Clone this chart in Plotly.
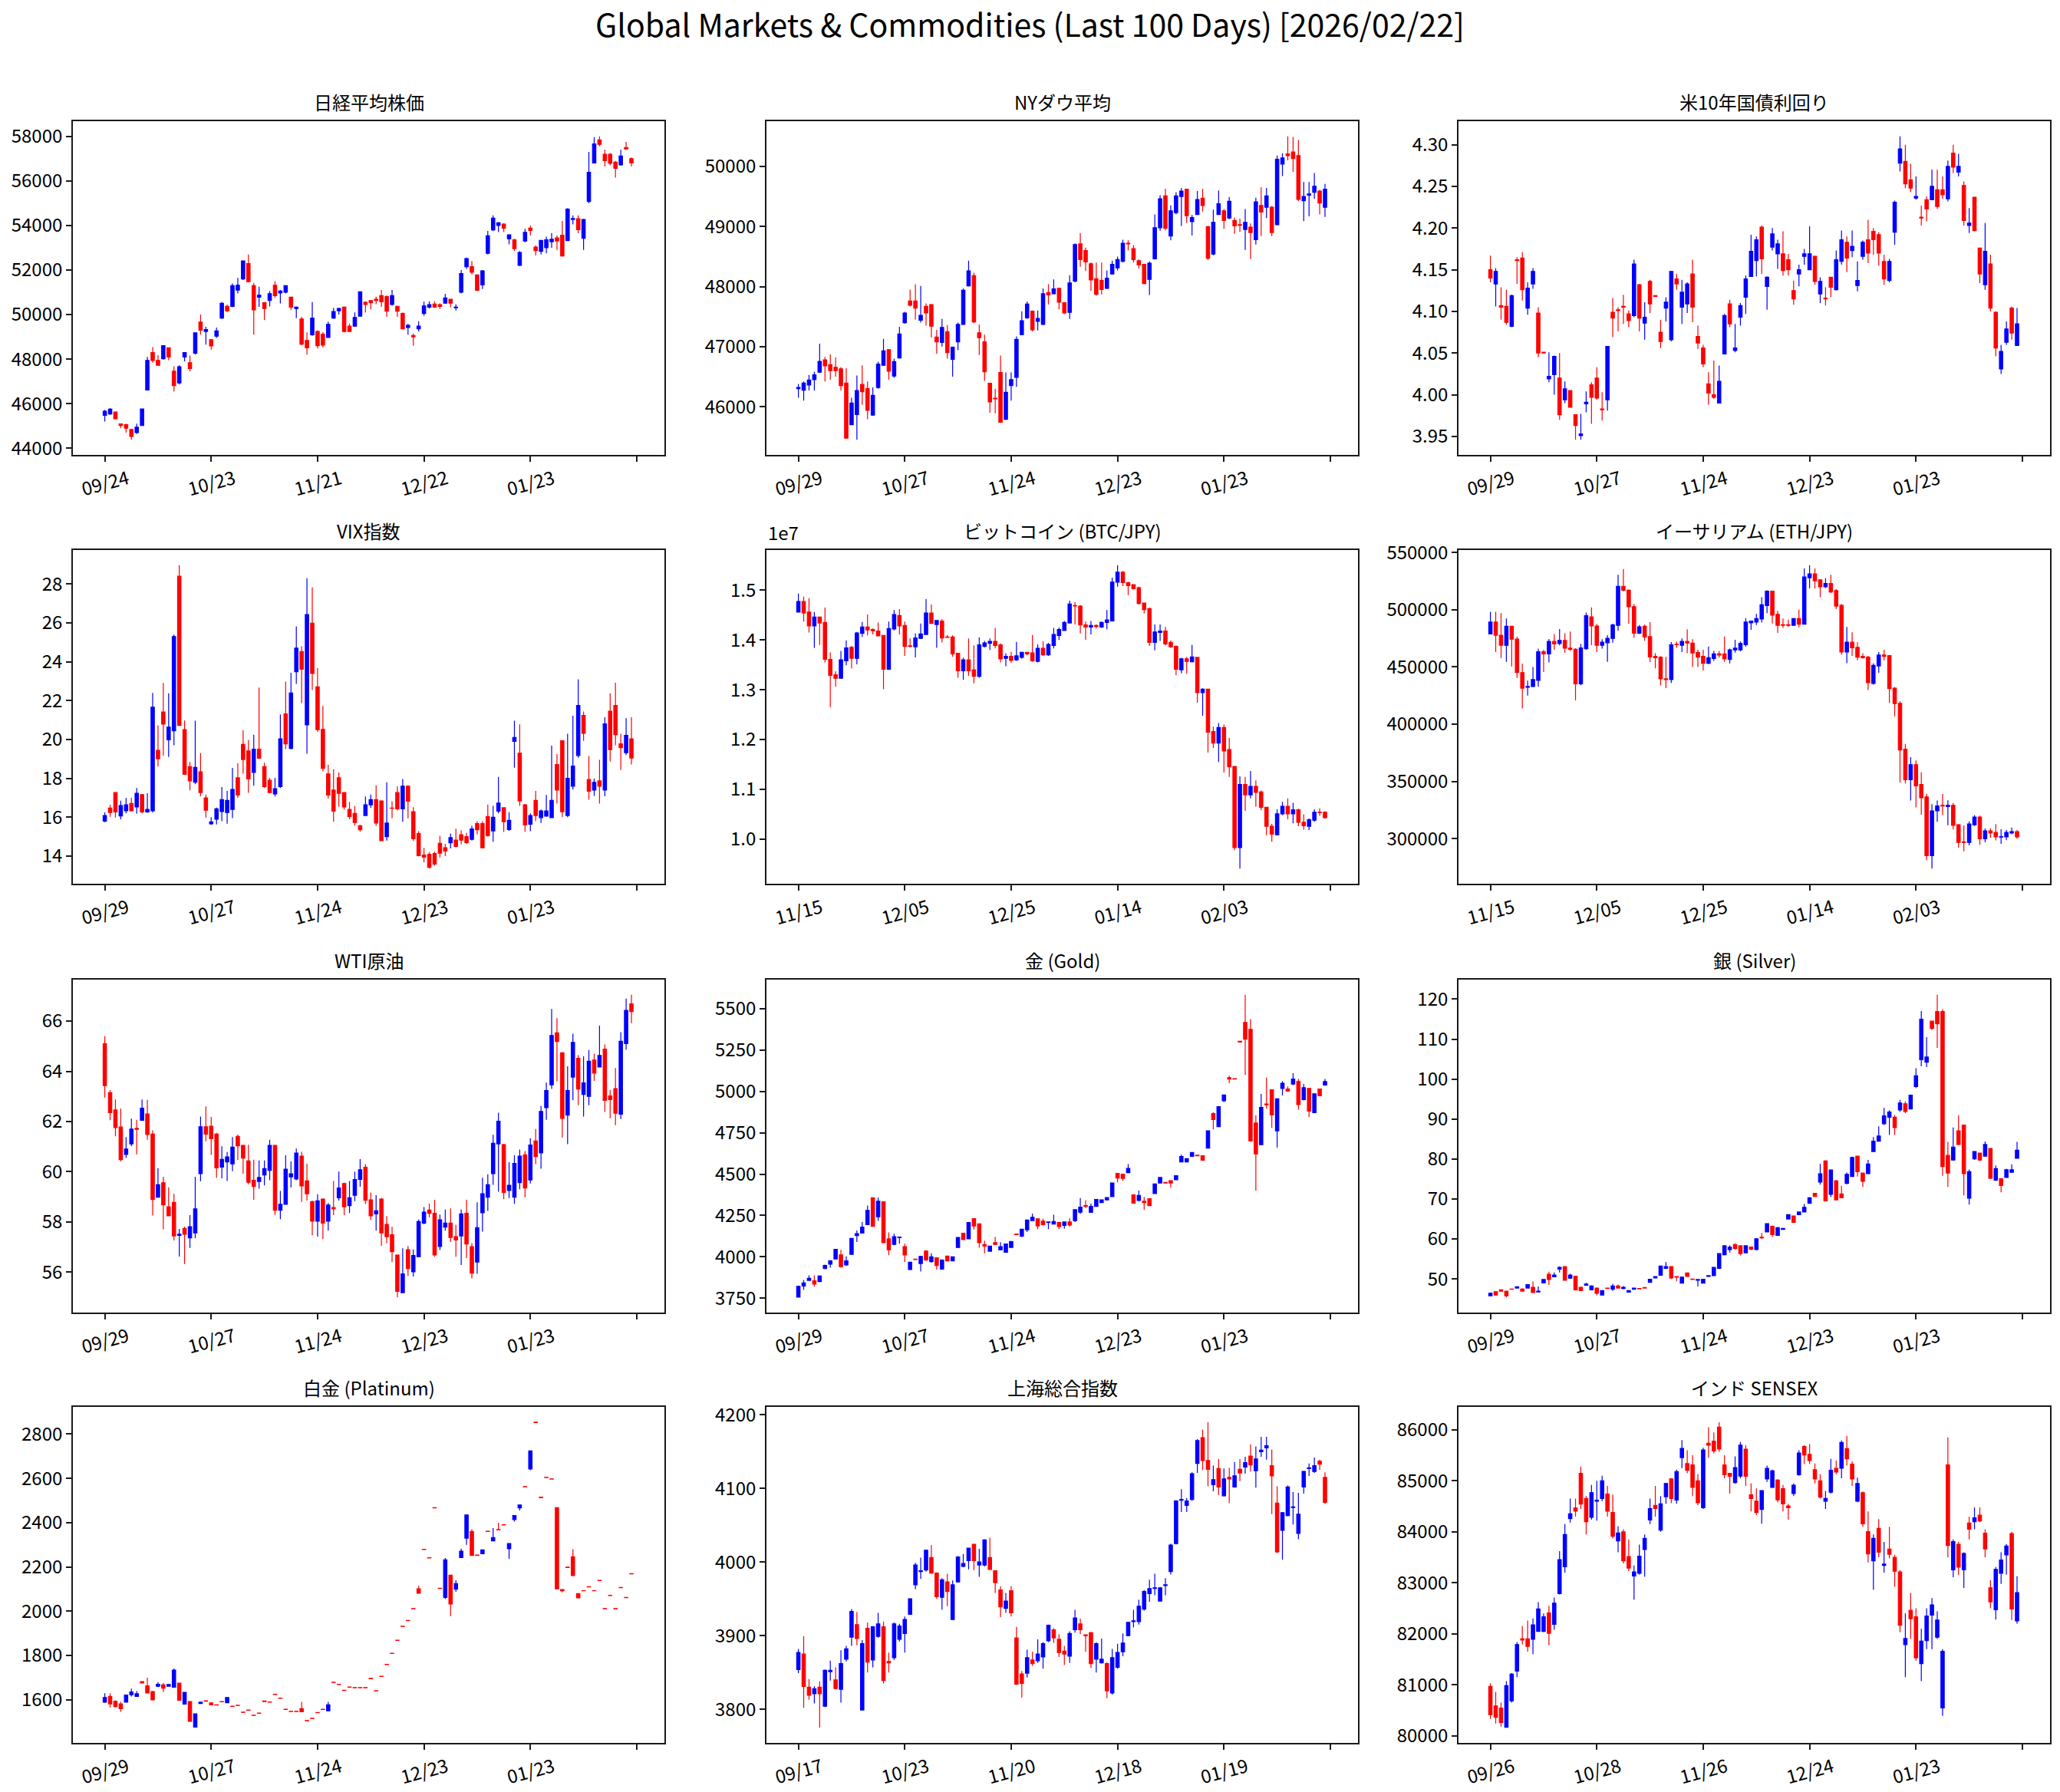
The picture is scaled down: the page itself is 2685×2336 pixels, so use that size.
import plotly.graph_objects as go

# ---------------- DATA ----------------
nk_open = [45480,45540,45620,45090,45060,44840,44700,45020,46610,48290,
47940,48020,48510,47455,46930,48090,47840,48270,49660,49240,
48870,49030,49840,50370,50370,51100,51600,52290,51300,50780,
50530,50630,51320,50970,51000,50780,50270,49800,48840,49090,
49240,49120,48970,49840,50170,50330,49480,49480,49930,50550,
50630,50690,50850,50810,50450,50370,50050,49420,49060,49360,
50050,50330,50470,50450,50510,50690,50310,51000,52150,52150,
51780,51330,52750,53800,54000,54060,53400,53360,52210,53300,
53880,53030,52840,53000,53270,53440,53560,53320,54270,54300,
53420,55080,56810,57840,57200,57200,56840,56720,57500,57000]
nk_high = [45720,45800,45650,45100,45100,44850,45100,45780,48100,48540,
48180,48620,48520,47680,47720,48300,48160,49200,50000,49450,
48900,49420,50560,50450,51400,51650,52420,52700,51420,51250,
50560,51050,51500,51100,51320,50800,50360,49900,49200,50560,
49300,49220,49680,50300,50300,50360,49600,50100,51030,50600,
50650,50800,51100,50860,51100,50400,50100,49580,49150,49700,
50580,50600,50600,50500,50930,50700,50460,52000,52560,52400,
51800,52000,53760,54450,54150,54100,53600,53400,52850,53850,
54000,53100,53350,53500,53650,53550,54200,54780,54450,54450,
54300,57300,57970,58000,57400,57250,56900,57400,57750,57050]
nk_low = [45200,45500,45300,44900,44700,44380,44650,45000,46600,47840,
47700,47980,47950,46550,46860,47900,47450,48200,49100,48650,
48430,48950,49800,50100,50330,50950,51550,51450,49100,50350,
49750,50360,50750,50500,50950,50200,49840,48620,48200,49050,
48480,48520,48950,49800,50000,49200,49230,49450,49900,50100,
50230,50470,50350,49900,50400,49900,49330,49100,48600,49240,
49950,50270,50300,50250,50480,50330,50180,50950,52050,51800,
51050,51150,52700,53750,53700,53700,53150,52850,52180,53250,
53550,52650,52700,52750,53000,52900,52600,53300,54050,53650,
52900,55000,56780,57550,56650,56700,56150,56680,57400,56650]
nk_close = [45660,45750,45320,45020,44900,44530,44940,45760,47940,47940,
47720,48600,48090,46810,47660,48290,47580,49180,49300,49330,
48590,49270,50510,50170,51300,51320,52410,51480,50210,50870,
50270,50940,50850,51060,51300,50330,50330,48670,48510,49840,
48600,48630,49560,50140,50270,49240,49240,49870,51020,50450,
50530,50630,50570,50150,50850,50150,49360,49520,49000,49480,
50390,50450,50330,50370,50750,50510,50330,51840,52510,51900,
51090,51960,53540,54330,54120,53880,53580,52960,52790,53690,
53780,52870,53330,53360,53380,53300,52630,54730,54310,53810,
54270,56390,57660,57640,56910,56790,56570,57120,57440,56810]

dj_open = [46300,46275,46360,46450,46575,46780,46700,46655,46630,46395,
45700,45870,46370,46300,45860,46320,46690,46950,46510,46810,
47400,47760,47760,47440,47670,47700,47160,47070,47250,46790,
47080,47370,48010,48180,47230,47080,46390,46140,46570,45790,
46350,46490,47200,47480,47590,47420,47370,47900,47880,47970,
47730,47570,48090,48710,48600,48380,48130,48100,47970,48210,
48310,48420,48720,48630,48430,48370,48120,48460,48980,49510,
48840,49230,49500,49620,49080,49200,49470,49000,48540,49200,
49260,49140,49100,49030,48950,48990,48780,49350,49320,49320,
49030,50040,50210,50240,50180,49430,49520,49570,49590,49320]
dj_high = [46380,46420,46530,46580,47050,46830,46870,46820,46660,46640,
46150,46520,46690,46420,46320,46750,47130,46960,46800,47330,
47580,47950,48040,48010,47720,47710,47280,47460,47360,47000,
47400,47970,48430,48230,47370,47200,46400,46300,46850,46570,
46570,47170,47590,47750,47600,47600,47970,48040,48120,47980,
47740,48190,48720,48890,48650,48400,48400,48400,48270,48430,
48500,48780,48770,48690,48450,48380,48420,49200,49520,49630,
49350,49570,49640,49630,49190,49590,49630,49010,49280,49600,
49290,49490,49150,49130,49290,49050,49480,49650,49640,49340,
50180,50220,50500,50490,50440,49740,49740,49890,49610,49710]
dj_low = [46150,46100,46270,46270,46560,46420,46450,46500,46270,45470,
45700,45450,46030,45790,45850,46300,46680,46450,46480,46800,
47380,47670,47450,47400,47350,47150,46880,47000,46800,46500,
46940,47360,48000,47390,46860,46430,45900,45890,45730,45780,
46100,46330,47190,47460,47250,47270,47360,47700,47870,47620,
47540,47460,48070,48330,48260,47930,47850,47870,47960,48200,
48270,48400,48600,48400,48300,48040,47860,48450,48930,48940,
48770,49200,49010,49060,48850,49190,49250,48440,48520,49190,
48960,49120,48880,48910,48610,48460,48700,48840,49140,48840,
49020,49840,50100,49910,49420,49090,49170,49460,49200,49160]
dj_close = [46320,46395,46445,46530,46755,46680,46600,46600,46350,45475,
46060,46270,46250,45940,46190,46710,46930,46590,46750,47210,
47560,47690,47640,47520,47560,47340,47080,47320,46900,46990,
47370,47940,48260,47410,47150,46580,46080,46130,45740,46240,
46450,47120,47430,47710,47280,47470,47880,47860,47960,47740,
47560,48060,48700,48450,48410,48110,47870,47950,48140,48370,
48450,48720,48710,48450,48360,48050,48390,48980,49460,48970,
49260,49510,49590,49180,49150,49450,49350,48470,49070,49380,
49100,49420,49010,49020,49070,48900,49410,49240,49510,48900,
50120,50140,50180,50130,49450,49500,49540,49670,49390,49620]

us_open = [4.150,4.133,4.107,4.106,4.082,4.162,4.164,4.104,4.133,4.098,
4.051,4.019,4.024,4.020,3.994,4.005,3.976,3.951,3.989,4.012,
4.020,3.983,3.994,4.099,4.102,4.106,4.097,4.095,4.132,4.086,
4.136,4.119,4.075,4.104,4.066,4.139,4.105,4.109,4.145,4.070,
4.056,4.013,4.000,3.990,4.049,4.109,4.053,4.093,4.117,4.142,
4.161,4.201,4.130,4.177,4.169,4.169,4.162,4.125,4.145,4.166,
4.150,4.166,4.121,4.116,4.141,4.126,4.160,4.183,4.173,4.131,
4.166,4.186,4.196,4.192,4.160,4.137,4.195,4.278,4.280,4.258,
4.236,4.213,4.234,4.234,4.246,4.246,4.235,4.290,4.267,4.251,
4.203,4.237,4.176,4.132,4.157,4.099,4.031,4.063,4.104,4.059]
us_high = [4.167,4.152,4.129,4.126,4.120,4.165,4.171,4.135,4.152,4.105,
4.051,4.051,4.047,4.050,4.016,4.005,3.976,3.977,4.004,4.015,
4.033,4.003,4.058,4.116,4.105,4.120,4.101,4.162,4.133,4.111,
4.138,4.1195,4.090,4.117,4.148,4.145,4.138,4.135,4.162,4.083,
4.060,4.027,4.041,4.035,4.097,4.114,4.085,4.110,4.143,4.192,
4.190,4.203,4.142,4.200,4.186,4.196,4.169,4.137,4.156,4.175,
4.202,4.167,4.141,4.129,4.141,4.173,4.197,4.190,4.197,4.160,
4.185,4.210,4.200,4.195,4.168,4.163,4.233,4.310,4.300,4.277,
4.262,4.227,4.238,4.270,4.270,4.262,4.281,4.300,4.289,4.256,
4.224,4.237,4.176,4.206,4.168,4.100,4.060,4.088,4.106,4.104]
us_low = [4.135,4.106,4.090,4.084,4.081,4.133,4.113,4.096,4.127,4.045,
4.0495,4.015,4.000,3.970,3.990,3.985,3.946,3.946,3.979,3.965,
3.994,3.969,3.981,4.069,4.076,4.085,4.081,4.093,4.076,4.066,
4.098,4.1175,4.056,4.088,4.064,4.126,4.085,4.098,4.087,4.055,
4.033,3.988,3.995,3.990,4.049,4.081,4.051,4.083,4.097,4.142,
4.142,4.145,4.102,4.173,4.151,4.143,4.143,4.108,4.130,4.156,
4.150,4.132,4.110,4.107,4.117,4.125,4.156,4.147,4.165,4.124,
4.162,4.158,4.168,4.155,4.132,4.135,4.180,4.268,4.248,4.243,
4.234,4.203,4.208,4.234,4.223,4.235,4.232,4.266,4.262,4.203,
4.194,4.196,4.134,4.126,4.100,4.046,4.025,4.060,4.066,4.059]
us_close = [4.140,4.148,4.105,4.087,4.119,4.161,4.126,4.128,4.148,4.050,
4.050,4.022,4.046,3.976,4.007,3.985,3.963,3.953,3.991,3.997,
3.996,3.982,4.058,4.092,4.101,4.105,4.089,4.157,4.092,4.093,
4.109,4.118,4.064,4.111,4.148,4.133,4.123,4.133,4.105,4.062,
4.037,4.002,3.997,4.016,4.095,4.085,4.056,4.107,4.139,4.172,
4.186,4.163,4.141,4.193,4.181,4.149,4.150,4.115,4.150,4.169,
4.169,4.136,4.136,4.115,4.129,4.162,4.186,4.164,4.178,4.137,
4.183,4.170,4.186,4.170,4.139,4.160,4.231,4.295,4.253,4.248,
4.238,4.212,4.223,4.250,4.226,4.240,4.274,4.273,4.274,4.209,
4.206,4.197,4.145,4.172,4.104,4.056,4.052,4.079,4.074,4.085]

vx_open = [15.80,16.47,17.27,16.07,16.33,16.71,16.53,17.16,16.27,16.33,
19.44,21.42,19.98,20.45,28.40,20.51,18.61,17.80,18.34,17.00,
15.66,15.90,16.29,16.24,16.40,18.03,19.75,19.41,18.31,19.50,
18.61,17.90,17.20,17.58,21.32,19.54,23.49,24.53,20.75,25.99,
22.71,20.52,18.23,17.40,18.03,17.27,16.40,16.20,15.57,16.09,
16.64,16.91,16.84,15.00,16.47,17.27,16.43,17.60,16.29,15.16,
14.06,14.10,14.13,14.66,14.43,14.69,14.83,15.10,15.00,14.86,
15.67,15.67,16.04,15.30,16.31,16.49,15.37,19.91,19.30,16.64,
15.64,16.87,15.98,16.06,15.98,18.71,19.94,16.09,17.60,19.18,
21.24,17.94,17.40,17.87,17.40,21.46,21.75,19.78,19.32,20.04]
vx_high = [16.25,16.65,17.28,16.85,16.99,17.00,17.50,17.20,17.24,22.40,
20.73,22.91,22.38,25.40,28.97,20.98,18.85,20.97,19.30,17.17,
16.00,16.50,17.55,17.36,18.54,18.78,20.47,19.97,20.25,22.67,
18.81,18.03,18.03,21.29,22.98,23.43,25.82,24.80,28.30,27.83,
23.67,21.73,18.70,18.47,18.30,17.29,16.78,16.58,15.61,17.07,
17.17,17.63,16.87,17.80,16.82,17.59,17.97,17.65,16.52,15.28,
14.42,14.21,14.23,15.05,14.63,15.16,15.41,15.32,15.19,15.56,
15.80,15.80,16.66,16.59,18.08,16.52,16.26,20.97,20.78,16.68,
16.20,17.36,16.40,17.15,19.68,19.25,19.96,20.30,21.22,23.10,
21.44,19.15,17.99,18.95,21.15,22.38,22.92,20.30,21.10,21.15]
vx_low = [15.75,16.02,15.98,15.90,16.20,16.30,16.18,16.20,16.23,16.24,
18.61,19.17,19.10,19.70,20.70,18.20,17.39,17.70,17.08,15.98,
15.61,15.63,15.80,15.67,15.95,17.00,18.24,17.26,17.62,19.00,
17.50,17.24,17.07,17.50,19.51,19.50,22.86,21.88,19.27,22.55,
20.40,18.36,16.96,15.78,16.55,16.40,15.90,15.57,15.26,16.07,
16.48,15.56,14.78,14.80,15.95,16.35,15.77,15.94,14.78,13.99,
13.67,13.36,13.51,13.92,14.00,14.40,14.45,14.60,14.62,14.80,
15.13,14.40,15.00,14.74,16.20,15.24,15.30,18.55,16.59,15.25,
15.28,15.81,15.71,16.02,15.97,16.70,16.00,16.00,17.42,19.06,
19.93,16.90,17.10,16.70,17.08,18.88,19.70,18.43,19.20,18.72]
vx_close = [16.09,16.24,16.27,16.60,16.64,16.33,17.23,16.27,16.40,21.66,
19.01,20.79,20.64,25.30,20.72,18.21,17.87,18.57,17.27,16.36,
15.76,16.43,16.91,16.87,17.43,17.14,18.97,17.97,19.50,19.04,
17.58,17.27,17.47,20.04,19.78,22.39,24.70,23.62,26.43,23.40,
20.51,18.51,17.14,16.31,17.23,16.53,16.04,15.73,15.36,16.64,
16.91,15.70,14.79,15.70,16.46,16.43,17.60,16.83,14.89,14.02,
13.95,13.42,13.59,14.15,14.26,14.95,14.50,14.82,14.70,15.40,
15.36,14.43,15.06,16.00,16.73,15.77,15.84,20.11,16.84,15.60,
16.09,16.09,16.33,16.33,16.87,17.40,16.28,18.00,18.63,21.75,
20.32,17.34,17.80,17.60,20.81,19.48,20.25,19.58,20.21,19.05]

bt_open = [1.456e7,1.477e7,1.456e7,1.428e7,1.446e7,1.435e7,1.361e7,1.330e7,1.323e7,1.358e7,
1.385e7,1.363e7,1.413e7,1.426e7,1.421e7,1.418e7,1.409e7,1.341e7,1.422e7,1.449e7,
1.429e7,1.388e7,1.386e7,1.403e7,1.411e7,1.454e7,1.431e7,1.438e7,1.406e7,1.406e7,
1.373e7,1.338e7,1.360e7,1.340e7,1.327e7,1.387e7,1.393e7,1.397e7,1.390e7,1.363e7,
1.367e7,1.360e7,1.365e7,1.375e7,1.374e7,1.357e7,1.383e7,1.370e7,1.389e7,1.409e7,
1.419e7,1.434e7,1.469e7,1.468e7,1.430e7,1.426e7,1.429e7,1.426e7,1.435e7,1.438e7,
1.516e7,1.536e7,1.515e7,1.511e7,1.505e7,1.474e7,1.463e7,1.395e7,1.415e7,1.418e7,
1.395e7,1.387e7,1.340e7,1.362e7,1.356e7,1.365e7,1.294e7,1.301e7,1.216e7,1.193e7,
1.224e7,1.180e7,1.146e7,0.983e7,1.110e7,1.089e7,1.106e7,1.095e7,1.064e7,1.026e7,
1.009e7,1.051e7,1.066e7,1.051e7,1.059e7,1.034e7,1.026e7,1.038e7,1.054e7,1.054e7]
bt_high = [1.493e7,1.487e7,1.484e7,1.456e7,1.446e7,1.465e7,1.375e7,1.337e7,1.378e7,1.399e7,
1.388e7,1.416e7,1.436e7,1.451e7,1.423e7,1.435e7,1.410e7,1.437e7,1.460e7,1.462e7,
1.437e7,1.403e7,1.413e7,1.433e7,1.482e7,1.471e7,1.440e7,1.442e7,1.410e7,1.409e7,
1.373e7,1.364e7,1.403e7,1.389e7,1.405e7,1.398e7,1.403e7,1.424e7,1.393e7,1.373e7,
1.376e7,1.396e7,1.376e7,1.376e7,1.410e7,1.391e7,1.397e7,1.394e7,1.424e7,1.425e7,
1.438e7,1.479e7,1.476e7,1.470e7,1.437e7,1.438e7,1.431e7,1.437e7,1.460e7,1.525e7,
1.550e7,1.538e7,1.517e7,1.512e7,1.507e7,1.475e7,1.465e7,1.431e7,1.431e7,1.426e7,
1.399e7,1.389e7,1.364e7,1.366e7,1.390e7,1.366e7,1.303e7,1.302e7,1.226e7,1.233e7,
1.230e7,1.203e7,1.146e7,1.126e7,1.125e7,1.137e7,1.118e7,1.098e7,1.065e7,1.031e7,
1.060e7,1.075e7,1.082e7,1.073e7,1.061e7,1.050e7,1.042e7,1.060e7,1.062e7,1.056e7]
bt_low = [1.455e7,1.437e7,1.415e7,1.384e7,1.390e7,1.355e7,1.265e7,1.306e7,1.322e7,1.349e7,
1.343e7,1.351e7,1.406e7,1.409e7,1.411e7,1.408e7,1.301e7,1.340e7,1.419e7,1.411e7,
1.368e7,1.385e7,1.365e7,1.402e7,1.410e7,1.432e7,1.384e7,1.395e7,1.405e7,1.366e7,
1.324e7,1.320e7,1.328e7,1.313e7,1.324e7,1.385e7,1.380e7,1.383e7,1.355e7,1.347e7,
1.354e7,1.358e7,1.362e7,1.369e7,1.356e7,1.355e7,1.368e7,1.368e7,1.383e7,1.400e7,
1.418e7,1.433e7,1.431e7,1.413e7,1.400e7,1.411e7,1.423e7,1.424e7,1.421e7,1.437e7,
1.507e7,1.508e7,1.490e7,1.501e7,1.471e7,1.453e7,1.388e7,1.379e7,1.398e7,1.389e7,
1.384e7,1.329e7,1.333e7,1.332e7,1.355e7,1.274e7,1.248e7,1.174e7,1.183e7,1.155e7,
1.134e7,1.125e7,0.978e7,0.941e7,1.057e7,1.082e7,1.065e7,1.058e7,1.008e7,0.995e7,
1.007e7,1.048e7,1.040e7,1.032e7,1.026e7,1.019e7,1.018e7,1.035e7,1.047e7,1.041e7]
bt_close = [1.477e7,1.454e7,1.428e7,1.446e7,1.434e7,1.361e7,1.329e7,1.323e7,1.360e7,1.384e7,
1.363e7,1.414e7,1.426e7,1.420e7,1.418e7,1.408e7,1.341e7,1.423e7,1.451e7,1.428e7,
1.387e7,1.387e7,1.404e7,1.412e7,1.454e7,1.433e7,1.439e7,1.404e7,1.405e7,1.372e7,
1.338e7,1.360e7,1.338e7,1.327e7,1.390e7,1.394e7,1.397e7,1.389e7,1.362e7,1.367e7,
1.359e7,1.368e7,1.375e7,1.372e7,1.358e7,1.383e7,1.370e7,1.391e7,1.411e7,1.421e7,
1.435e7,1.472e7,1.468e7,1.430e7,1.426e7,1.429e7,1.427e7,1.435e7,1.440e7,1.516e7,
1.536e7,1.515e7,1.509e7,1.503e7,1.473e7,1.461e7,1.395e7,1.416e7,1.418e7,1.392e7,
1.386e7,1.341e7,1.362e7,1.357e7,1.366e7,1.294e7,1.301e7,1.215e7,1.193e7,1.224e7,
1.177e7,1.145e7,0.983e7,1.110e7,1.089e7,1.106e7,1.094e7,1.064e7,1.026e7,1.010e7,
1.051e7,1.066e7,1.051e7,1.059e7,1.034e7,1.027e7,1.039e7,1.054e7,1.053e7,1.043e7]

et_open = [478840,489200,477700,468900,485600,474300,445100,432200,432900,438300,
463300,461500,472300,470500,473200,466400,465500,435200,466000,493700,
485800,468900,471200,475000,486300,520500,517100,502700,479500,485600,
476600,459200,458600,439600,438900,469800,468900,472300,470900,462600,
459200,453200,457400,461500,461500,456500,464900,464900,469400,488500,
489200,491900,503600,516200,496000,486900,486900,486300,492300,487400,
527900,531300,526100,520100,523000,516700,503800,463100,471600,467100,
459200,458600,435600,450900,460400,459900,431500,418200,378200,351600,
364700,347300,336500,285200,324300,329100,328100,329100,312200,297200,
296700,312200,318900,300000,306800,305400,301400,301600,305000,306100]
et_high = [498200,498200,497000,492300,485800,476500,452800,438000,449900,466000,
465000,474500,478800,483200,479500,481000,466400,470100,497500,502000,
487600,474300,477700,487800,530600,535600,517800,505000,486700,487000,
489200,462000,459400,458800,471700,472300,475000,482800,474300,465000,
465000,467800,464000,464000,476600,466000,473700,472300,492600,490500,
496400,510900,517000,516500,499000,492300,491400,492500,500000,536100,
538900,536100,526100,527500,530600,518200,505000,485000,480200,471600,
462000,459700,453200,463000,465000,460400,432500,420200,382700,371200,
368300,358000,339200,330200,333300,339100,333600,331200,312700,311500,
315100,320600,320200,308900,309000,312700,308300,307600,309800,307600]
et_low = [478800,463100,457900,454500,450500,440400,413800,425000,432400,432700,
445600,454000,465000,468900,462400,464000,420800,434100,465000,469000,
463100,466000,454500,471200,481700,516000,487800,475500,478800,472800,
454300,448800,434100,431500,436000,466600,463100,462000,450000,449900,
447000,452400,455400,458100,454500,453200,462600,463700,467700,482500,
486700,488800,497000,488000,479800,484200,485100,485900,484700,487000,
518700,518700,510900,519000,514400,500500,460600,453300,459700,455900,
457400,429900,434600,445000,455900,418400,406700,349000,348300,333300,
327400,320900,281100,273900,314800,320600,311700,308100,292100,289000,
294200,311100,294600,296800,300900,298500,295500,298700,303800,299800]
et_close = [489200,477700,468900,485600,474300,445100,431500,432900,439000,463300,
461500,472300,470100,473200,466400,465500,435200,466700,494800,485800,
468900,471600,475000,486700,520500,517100,502700,479500,485100,476100,
458800,458100,439600,438900,469400,469400,472300,470900,462200,458600,
453200,458100,461500,460400,457000,464900,466400,470500,489200,490100,
492300,504300,516200,495300,486300,486300,486300,492300,487400,528600,
531300,525200,520100,523000,515500,503200,463100,471600,466700,458600,
458100,436300,451400,460400,459300,431100,418000,377500,351600,364700,
346200,335800,285200,324200,328600,328600,329100,311700,296700,296700,
312900,318900,300000,306800,305000,301600,301800,305400,306100,301600]

wt_open = [65.10,63.15,62.46,61.78,60.69,61.11,61.73,62.05,62.30,61.50,
58.98,59.56,58.60,58.78,57.46,57.74,57.36,57.56,59.92,61.79,
61.81,61.50,60.18,60.39,60.31,61.41,61.05,60.43,59.66,59.61,
59.87,60.05,61.05,58.46,58.70,59.79,59.71,60.62,59.63,58.81,
58.03,58.91,58.03,58.57,58.96,59.53,58.65,59.06,59.69,60.18,
58.88,58.32,58.91,57.90,57.49,56.68,55.18,56.89,56.01,56.61,
57.95,58.47,58.34,57.02,57.79,57.95,57.41,57.44,58.34,57.01,
56.40,58.36,58.98,59.92,61.11,61.08,59.25,58.98,59.56,60.67,
59.67,61.22,60.75,62.55,63.46,65.53,64.74,62.25,63.77,64.52,
63.08,63.00,64.45,64.17,64.88,63.02,63.31,62.29,65.10,66.69]
wt_high = [65.40,63.25,62.88,62.52,61.38,62.11,62.07,62.88,62.86,61.65,
60.14,59.80,59.38,59.12,57.72,57.81,58.27,59.80,62.20,62.60,
62.18,61.55,61.01,60.78,61.38,61.48,61.07,61.07,60.48,60.45,
60.45,61.27,61.07,59.23,60.65,60.41,60.92,60.79,60.32,58.84,
59.10,58.93,58.75,59.63,60.00,59.56,59.63,60.00,60.50,60.30,
59.17,59.06,58.96,58.23,57.80,56.70,56.95,57.04,56.90,58.09,
58.59,58.73,58.88,58.29,58.49,58.54,57.88,58.49,58.88,57.15,
58.78,59.76,59.90,61.47,62.35,61.11,60.38,60.66,60.88,60.82,
61.33,61.70,62.62,63.55,66.48,66.12,64.74,64.20,65.50,64.65,
64.60,64.85,64.70,65.82,65.07,63.25,64.13,65.56,66.90,67.05]
wt_low = [62.95,62.05,61.41,60.41,60.55,61.02,60.69,62.03,61.27,58.25,
58.96,57.70,58.22,57.26,56.62,56.32,56.96,57.35,59.62,61.21,
60.67,59.76,59.74,59.63,60.02,60.47,59.92,59.50,58.88,59.32,
59.45,59.66,58.28,58.11,58.68,59.37,59.66,58.80,58.85,57.47,
57.41,57.31,57.65,58.27,58.85,58.27,58.35,58.83,59.40,58.71,
58.07,57.65,57.05,57.15,56.40,54.99,55.17,55.85,55.82,56.60,
57.90,58.18,56.61,56.88,57.65,57.20,56.61,56.28,56.56,55.75,
55.93,57.61,58.44,59.48,59.20,58.90,58.95,58.72,59.30,58.97,
59.53,60.30,60.12,62.07,63.30,63.60,61.36,61.10,62.85,62.65,
62.20,62.65,63.62,64.17,62.38,62.13,61.85,62.10,64.86,65.92]
wt_close = [63.43,62.35,61.76,60.48,60.90,61.70,61.69,62.53,61.48,58.89,
59.48,58.68,58.24,57.44,57.51,57.51,57.81,58.52,61.79,61.50,
61.31,60.15,60.49,60.59,60.98,61.03,60.54,59.58,59.41,59.77,
60.12,61.05,58.46,58.70,60.10,59.92,60.74,59.43,59.12,58.03,
58.84,57.95,58.67,58.52,59.35,58.60,58.96,59.69,60.08,58.86,
58.24,58.44,57.56,57.41,56.81,55.23,55.93,56.14,56.66,58.01,
58.39,58.34,56.68,58.08,57.95,57.38,57.28,58.32,57.12,55.96,
57.77,59.12,59.48,61.13,62.01,59.17,59.46,60.33,60.62,59.35,
61.06,60.60,62.40,63.23,65.43,65.19,62.12,63.23,65.15,63.29,
63.54,64.40,63.93,64.63,62.84,62.87,62.33,65.20,66.43,66.38]

au_open = [3757,3824,3858,3855,3851,3929,3956,3987,4012,3952,
4015,4129,4144,4195,4357,4242,4333,4109,4075,4117,
4062,3924,3987,3960,4035,3971,3995,3926,4005,3976,
4057,4143,4109,4231,4200,4075,4034,4086,4043,4028,
4057,4138,4125,4164,4219,4230,4216,4208,4198,4208,
4190,4211,4219,4270,4310,4269,4305,4328,4344,4364,
4505,4500,4509,4375,4341,4336,4352,4383,4446,4450,
4461,4466,4574,4574,4607,4614,4611,4657,4866,4787,
4944,5083,5077,5303,5417,5375,4809,4678,4924,5010,
4762,5018,5014,5044,5060,4950,5018,4872,5014,5038]
au_high = [3826,3860,3888,3888,3888,3953,3980,4048,4043,4003,
4114,4160,4210,4310,4359,4358,4335,4148,4140,4121,
4080,3970,3988,4007,4040,4022,3997,3984,4007,4003,
4118,4146,4211,4234,4202,4098,4068,4120,4089,4081,
4095,4140,4170,4225,4262,4232,4230,4213,4255,4212,
4213,4234,4288,4356,4342,4322,4350,4347,4361,4448,
4507,4502,4560,4378,4402,4362,4353,4443,4482,4452,
4463,4493,4618,4597,4634,4616,4613,4765,4875,4910,
4981,5095,5079,5305,5584,5437,4855,4985,5083,5012,
4957,5062,5030,5110,5075,5045,5020,4988,5016,5075]
au_low = [3755,3800,3855,3820,3849,3925,3935,3985,3935,3945,
4013,4090,4142,4193,4182,4218,4085,4010,4070,4080,
3970,3920,3983,3912,3975,3965,3923,3924,3972,3974,
4055,4102,4106,4165,4055,4022,4032,4072,4040,4025,
4055,4133,4120,4150,4217,4168,4190,4168,4195,4168,
4170,4182,4210,4260,4295,4266,4303,4326,4342,4362,
4450,4460,4505,4322,4336,4285,4308,4380,4444,4444,
4418,4464,4572,4571,4605,4609,4582,4655,4770,4785,
4935,5050,5072,5296,5100,4695,4400,4675,4895,4780,
4660,4975,4998,5038,4890,4945,4845,4868,4972,5035]
au_close = [3822,3843,3871,3835,3885,3948,3976,4046,3941,3976,
4112,4140,4180,4281,4184,4336,4086,4043,4122,4120,
4012,3968,3984,4003,3981,4000,3948,3981,3976,4000,
4117,4104,4208,4187,4086,4065,4065,4075,4062,4078,
4093,4135,4167,4223,4239,4187,4195,4211,4214,4183,
4211,4192,4286,4300,4305,4305,4347,4344,4359,4446,
4477,4474,4535,4325,4371,4328,4310,4441,4480,4446,
4446,4490,4606,4594,4631,4611,4584,4762,4830,4908,
4978,5075,5074,5298,5315,4701,4623,4903,4919,4858,
4955,5049,5002,5075,4920,5022,4881,4986,4974,5060]

ag_open = [45.77,46.81,47.27,46.94,47.46,47.72,47.46,47.72,47.92,46.75,
49.02,51.17,50.54,52.46,53.11,50.19,50.71,47.92,48.44,47.27,
47.72,45.97,47.72,47.40,48.24,47.60,46.68,47.40,47.60,47.85,
49.16,50.26,50.91,52.66,53.11,50.58,48.96,51.49,49.99,49.67,
48.95,50.64,50.84,52.66,56.04,57.33,58.63,58.30,56.55,57.98,
57.33,60.45,61.75,63.18,60.90,62.40,65.00,65.77,66.10,66.75,
68.89,71.42,74.22,79.54,71.16,74.54,71.29,73.89,75.65,80.71,
76.49,76.36,81.88,84.48,88.83,90.45,90.45,92.27,93.83,92.53,
98.12,104.87,104.22,114.48,116.88,116.88,80.91,79.74,87.08,88.50,
70.19,80.06,81.49,80.71,82.66,74.74,75.06,75.39,76.68,80.19]
ag_high = [46.56,46.88,47.40,47.00,47.50,48.10,47.70,48.60,49.35,48.10,
50.00,51.80,51.62,53.18,53.18,51.30,50.80,48.05,49.02,48.40,
47.80,47.10,47.80,48.80,48.60,48.20,47.15,47.80,47.65,47.90,
50.00,50.70,53.30,54.20,53.20,50.60,50.60,51.60,50.00,49.90,
50.00,50.90,53.00,56.40,58.35,58.40,58.90,58.40,58.40,58.00,
60.20,61.50,63.90,63.40,63.00,62.70,66.20,65.80,66.80,68.80,
70.50,71.50,78.80,79.70,77.40,74.80,73.30,76.60,80.60,80.80,
76.60,79.80,85.50,88.20,92.80,92.20,91.00,94.80,94.40,96.00,
102.70,117.00,110.50,114.60,121.10,117.50,84.30,87.90,90.90,88.60,
77.40,82.00,81.60,84.40,82.70,78.40,75.10,77.60,78.70,84.30]
ag_low = [45.70,45.84,46.88,45.38,47.35,47.70,46.85,47.70,46.55,46.70,
48.95,48.50,50.50,51.60,49.60,50.05,47.20,47.00,48.35,47.20,
45.90,45.90,47.50,47.00,47.65,47.40,46.60,47.30,47.50,47.70,
49.10,50.20,50.85,52.50,50.00,49.40,48.90,50.50,49.80,48.10,
48.90,50.60,50.80,52.50,55.90,56.60,57.30,55.90,56.40,57.20,
57.20,60.00,61.70,60.50,60.80,62.30,64.90,64.00,66.00,66.70,
68.80,70.60,73.60,69.40,70.50,69.70,70.20,73.70,75.50,75.60,
73.00,76.20,81.80,84.40,88.50,86.00,86.00,91.80,91.50,92.40,
97.80,103.20,103.00,112.30,107.80,75.80,73.00,79.60,83.50,70.90,
68.60,79.80,79.50,80.60,75.00,74.50,71.70,75.30,76.60,80.10]
ag_close = [46.42,45.97,46.94,45.77,47.40,48.05,46.94,48.57,46.62,46.94,
49.87,49.87,50.97,52.92,49.67,50.97,47.27,47.07,48.70,48.24,
46.42,47.07,47.60,48.24,47.72,47.92,47.07,47.72,47.53,47.72,
49.93,50.58,53.24,53.11,50.26,50.45,50.45,50.62,49.87,49.87,
49.93,50.84,52.92,56.36,58.30,57.94,57.65,56.36,58.30,57.46,
60.06,60.26,63.83,61.10,62.85,62.66,66.10,64.15,66.75,67.92,
70.32,70.65,76.30,69.54,77.25,69.80,70.32,76.17,80.39,76.82,
74.41,78.76,84.48,85.78,90.78,91.75,87.86,94.02,91.88,95.97,
100.84,115.00,105.52,112.66,113.83,78.11,76.49,82.98,83.63,76.36,
76.82,81.88,79.74,83.63,75.19,77.59,73.37,77.33,77.33,82.20]

pt_open = [1589,1615,1593,1581,1589,1623,1615,1682,1663,1637,
1661,1667,1661,1657,1675,1580,1592,1476,1583,1595,
1586,1577,1592,1586,1571,1575,1544,1554,1530,1540,
1594,1590,1625,1607,1557,1548,1548,1560,1506,1516,
1542,1557,1550,1679,1670,1643,1658,1655,1655,1655,
1697,1641,1706,1760,1810,1869,1932,1958,2012,2101,
2280,2242,2468,2104,2062,2163,2099,2242,2330,2360,
2254,2260,2361,2318,2369,2391,2282,2414,2467,2563,
2643,2854,2515,2605,2598,2468,2098,2199,2246,2080,
2093,2111,2093,2139,2012,2072,2012,2107,2062,2170]
pt_high = [1629,1629,1597,1590,1623,1650,1640,1684,1700,1640,
1680,1676,1670,1741,1676,1635,1593,1538,1590,1596,
1587,1577,1592,1611,1571,1575,1544,1554,1530,1540,
1594,1590,1625,1607,1557,1548,1548,1590,1506,1516,
1542,1557,1590,1679,1670,1643,1658,1655,1655,1655,
1697,1641,1706,1760,1810,1869,1932,1958,2012,2115,
2280,2242,2468,2104,2240,2165,2140,2283,2437,2370,
2254,2279,2361,2375,2400,2391,2308,2434,2482,2563,
2726,2854,2515,2605,2598,2470,2100,2200,2280,2082,
2093,2111,2093,2139,2012,2072,2012,2107,2062,2170]
pt_low = [1586,1565,1565,1545,1587,1615,1613,1675,1630,1597,
1657,1635,1660,1655,1596,1578,1500,1474,1582,1592,
1576,1576,1591,1585,1570,1574,1543,1553,1529,1539,
1592,1589,1624,1606,1556,1547,1547,1545,1505,1515,
1541,1556,1548,1678,1669,1642,1657,1654,1654,1654,
1695,1640,1705,1759,1809,1868,1931,1957,2011,2080,
2279,2241,2467,2103,2055,1978,2088,2240,2300,2250,
2252,2258,2360,2316,2368,2390,2236,2405,2455,2562,
2637,2852,2513,2604,2597,2099,2085,2196,2159,2058,
2092,2110,2092,2138,2011,2071,2011,2106,2061,2169]
pt_close = [1610,1581,1569,1560,1621,1635,1627,1676,1631,1599,
1670,1652,1669,1734,1598,1633,1502,1536,1589,1593,
1577,1576,1591,1610,1570,1574,1543,1553,1529,1539,
1592,1589,1624,1606,1556,1547,1547,1546,1505,1515,
1541,1556,1577,1678,1669,1642,1657,1654,1654,1654,
1695,1640,1705,1759,1809,1868,1931,1957,2011,2081,
2279,2241,2467,2103,2232,2033,2125,2271,2435,2252,
2252,2277,2360,2333,2368,2390,2306,2432,2480,2562,
2724,2852,2513,2604,2597,2101,2092,2197,2161,2060,
2092,2110,2092,2138,2011,2071,2011,2106,2061,2169]

sh_open = [3854,3875,3830,3821,3830,3804,3851,3840,3827,3868,
3898,3915,3799,3910,3867,3899,3912,3865,3870,3895,
3903,3929,3969,3987,3989,4006,3985,3952,3973,3922,
3973,3994,4002,4024,3996,3996,4006,3988,3962,3937,
3961,3897,3848,3849,3867,3866,3871,3893,3908,3895,
3879,3872,3908,3916,3901,3904,3868,3863,3862,3822,
3857,3878,3900,3919,3919,3936,3957,3964,3947,3968,
3987,4025,4084,4077,4085,4134,4169,4138,4105,4127,
4090,4115,4102,4126,4129,4144,4124,4150,4155,4131,
4080,4043,4063,4074,4039,4102,4127,4123,4137,4115]
sh_high = [3882,3899,3841,3831,3838,3854,3866,3857,3880,3886,
3936,3932,3894,3918,3913,3931,3919,3877,3918,3916,
3926,3950,3999,4006,4017,4023,3986,3978,3984,3975,
4008,4011,4019,4025,4018,4031,4033,3989,3967,3958,
3967,3912,3852,3881,3878,3895,3891,3915,3910,3902,
3886,3906,3935,3923,3901,3905,3891,3896,3864,3882,
3889,3903,3919,3935,3949,3962,3976,3984,3966,3978,
4025,4084,4099,4087,4122,4167,4180,4190,4131,4140,
4127,4128,4136,4140,4143,4160,4157,4170,4170,4153,
4103,4068,4104,4095,4094,4124,4134,4142,4139,4122]
sh_low = [3849,3802,3813,3808,3775,3803,3839,3827,3809,3865,
3886,3887,3799,3850,3857,3897,3835,3850,3867,3892,
3877,3928,3963,3977,3987,3984,3950,3935,3940,3921,
3972,3993,3990,3989,3980,3994,3989,3958,3925,3931,
3926,3833,3816,3843,3859,3863,3855,3891,3890,3871,
3860,3863,3904,3902,3878,3856,3850,3862,3815,3820,
3855,3872,3899,3911,3915,3934,3946,3955,3946,3955,
3983,4024,4068,4068,4083,4121,4125,4103,4096,4091,
4089,4080,4101,4110,4120,4123,4101,4143,4139,4065,
4012,4003,4062,4051,4031,4093,4117,4121,4125,4079]
sh_close = [3877,3831,3819,3828,3821,3853,3853,3828,3862,3882,
3933,3896,3889,3864,3912,3916,3839,3863,3916,3913,
3922,3950,3996,3988,4016,3985,3953,3976,3960,3969,
4007,3998,4019,4002,4000,4030,3990,3972,3939,3947,
3931,3834,3835,3870,3862,3875,3889,3914,3897,3877,
3875,3903,3924,3908,3900,3862,3889,3868,3825,3870,
3877,3890,3918,3920,3940,3960,3964,3965,3965,3969,
4023,4083,4085,4083,4120,4165,4138,4126,4112,4102,
4113,4113,4117,4121,4135,4132,4140,4152,4158,4117,
4014,4067,4102,4075,4065,4123,4128,4131,4133,4081]

sx_open = [80969,80586,80545,80165,80684,81270,81902,81902,81892,82047,
82047,82410,82187,82788,83316,84259,84471,85145,84653,84285,
84601,84653,84741,84378,83824,84000,83513,83135,83187,83653,
84233,84518,84031,84689,85036,84622,85456,85337,85311,85000,
84472,85736,85777,86052,85311,85145,84964,85093,85622,84725,
84601,84440,85036,84870,85015,84845,84508,84751,85119,85674,
85518,85218,85000,84601,84777,85244,85249,85632,85326,84601,
84767,84005,83430,84067,83342,83663,83498,83213,81788,82461,
82332,81415,81866,82368,81933,80545,85311,83254,83757,83254,
84171,84197,84326,83974,82902,82471,83187,83549,83964,82254]
sx_high = [81030,80860,80650,81070,81230,81840,82150,82260,82300,82620,
82400,82550,82710,83620,84150,84650,84650,85280,84700,84920,
85000,85100,84900,84730,84110,84050,83850,83340,83750,83950,
84650,84900,84700,84960,85050,85220,85800,85600,85500,85130,
85650,86050,85950,86150,85500,85150,85480,85760,85700,84950,
84850,84810,85300,85220,85030,84920,84550,84950,85600,85700,
85720,85340,85130,84800,85430,85400,85790,85880,85380,85060,
84790,84400,83950,84250,83800,84100,83550,83250,82400,82800,
82500,82100,82500,82700,82440,81700,85850,83850,83800,83600,
84300,84480,84480,84050,83050,83310,83600,83760,84000,83130]
sx_low = [80330,80240,80180,80160,80650,81150,81790,81650,81600,82040,
82030,81780,82080,82770,83200,84180,84300,84450,83950,84240,
84220,84600,84300,83870,83600,83380,83230,82670,83160,83120,
84150,84300,84000,84550,84560,84550,85250,85150,84700,84520,
84450,85450,85540,85570,85050,84750,84940,85050,84900,84400,
84330,84160,84980,84860,84580,84400,84240,84700,85100,85330,
85330,84950,84650,84450,84750,85130,85050,85300,84900,84580,
84100,83400,82860,83500,83200,83480,82920,82030,81150,81900,
81470,81070,81700,81700,81900,80390,83500,83110,83150,82900,
83850,84050,84190,83500,82500,82280,82980,83160,82270,82200]
sx_close = [80415,80363,80260,80985,81208,81788,81876,81752,82176,82487,
82332,82010,82601,83456,83948,84352,84404,84544,84197,84767,
84622,85000,84404,83912,83979,83430,83290,83213,83523,83870,
84456,84456,84549,84948,84653,85181,85637,85207,84870,84570,
85606,85700,85585,85622,85119,85088,85259,85700,85088,84653,
84378,84808,85244,85197,84627,84549,84472,84912,85544,85508,
85399,85036,84679,84653,85207,85171,85751,85430,85036,84948,
84156,83565,83871,83601,83368,83560,83228,82166,81907,82296,
81529,81855,82347,82565,82270,81658,83731,83808,83306,83575,
84052,84274,84212,83663,82627,83264,83446,83720,82487,82808]

# tick labels (dates at every 20th bar)
ticks_nk = ["09/24", "10/23", "11/21", "12/22", "01/23", ""]
ticks_us = ["09/29", "10/27", "11/24", "12/23", "01/23", ""]
ticks_crypto = ["11/15", "12/05", "12/25", "01/14", "02/03", ""]
ticks_sh = ["09/17", "10/23", "11/20", "12/18", "01/19", ""]
ticks_sx = ["09/26", "10/28", "11/26", "12/24", "01/23", ""]

titles = ["日経平均株価", "NYダウ平均", "米10年国債利回り",
          "VIX指数", "ビットコイン (BTC/JPY)", "イーサリアム (ETH/JPY)",
          "WTI原油", "金 (Gold)", "銀 (Silver)",
          "白金 (Platinum)", "上海総合指数", "インド SENSEX"]

btc_tickvals = [1.0e7, 1.1e7, 1.2e7, 1.3e7, 1.4e7, 1.5e7]
btc_ticktext = ["1.0", "1.1", "1.2", "1.3", "1.4", "1.5"]

panels = [
    (nk_open, nk_high, nk_low, nk_close, ticks_nk, dict(dtick=2000, tickformat="d")),
    (dj_open, dj_high, dj_low, dj_close, ticks_us, dict(dtick=1000, tickformat="d")),
    (us_open, us_high, us_low, us_close, ticks_us, dict(dtick=0.05, tick0=0, tickformat=".2f")),
    (vx_open, vx_high, vx_low, vx_close, ticks_us, dict(dtick=2, tick0=0, tickformat="d")),
    (bt_open, bt_high, bt_low, bt_close, ticks_crypto, dict(tickmode="array", tickvals=btc_tickvals, ticktext=btc_ticktext)),
    (et_open, et_high, et_low, et_close, ticks_crypto, dict(dtick=50000, tickformat="d")),
    (wt_open, wt_high, wt_low, wt_close, ticks_us, dict(dtick=2, tick0=0, tickformat="d")),
    (au_open, au_high, au_low, au_close, ticks_us, dict(dtick=250, tick0=0, tickformat="d")),
    (ag_open, ag_high, ag_low, ag_close, ticks_us, dict(dtick=10, tick0=0, tickformat="d")),
    (pt_open, pt_high, pt_low, pt_close, ticks_us, dict(dtick=200, tick0=0, tickformat="d")),
    (sh_open, sh_high, sh_low, sh_close, ticks_sh, dict(dtick=100, tick0=0, tickformat="d")),
    (sx_open, sx_high, sx_low, sx_close, ticks_sx, dict(dtick=1000, tick0=0, tickformat="d")),
]

# ---------------- LAYOUT ----------------
W, H = 2685, 2336
FONT = "Noto Sans CJK JP"
col_px = [(95, 866), (999, 1770), (1901, 2672)]
row_px = [(158, 593), (717, 1152), (1277, 1711), (1834, 2272)]

fig = go.Figure()
layout = dict(
    template="none",
    width=W, height=H, margin=dict(l=0, r=0, t=0, b=0, pad=0, autoexpand=False),
    paper_bgcolor="white", plot_bgcolor="white",
    font=dict(family=FONT, size=24, color="black"),
    showlegend=False, boxgap=0.37, boxgroupgap=0,
    title=dict(text="Global Markets & Commodities (Last 100 Days) [2026/02/22]",
               x=0.5, xanchor="center", y=1 - 34 / H, yanchor="middle", yref="container",
               automargin=False,
               font=dict(family=FONT, size=41, color="black")),
)
annotations = []

for k, (o, h, l, c, tlabels, yopts) in enumerate(panels):
    r, ci = divmod(k, 3)
    sfx = "" if k == 0 else str(k + 1)
    x0, x1 = col_px[ci]
    t0, t1 = row_px[r]
    xd = [x0 / W, x1 / W]
    yd = [1 - t1 / H, 1 - t0 / H]
    fig.add_trace(go.Candlestick(
        x=list(range(len(o))), open=o, high=h, low=l, close=c,
        increasing=dict(line=dict(color="#0000ff", width=1.2), fillcolor="#0000ff"),
        decreasing=dict(line=dict(color="#ff0000", width=1.2), fillcolor="#ff0000"),
        whiskerwidth=0, xaxis="x" + sfx, yaxis="y" + sfx, hoverinfo="skip"))
    lo, hi = min(l), max(h)
    pad = (hi - lo) * 0.05
    common = dict(showline=True, mirror=True, linecolor="#1a1a1a", linewidth=1.8,
                  showgrid=False, zeroline=False, ticks="outside", ticklen=7,
                  tickwidth=1.7, tickcolor="#1a1a1a", automargin=False,
                  tickfont=dict(family=FONT, size=24, color="black"))
    layout["xaxis" + sfx] = dict(domain=xd, anchor="y" + sfx, range=[-6.0, 105.2],
                                 tickmode="array", tickvals=[0, 20, 40, 60, 80, 100],
                                 ticktext=tlabels, tickangle=-15, ticklabelshift=30,
                                 rangeslider=dict(visible=False), **common)
    ya = dict(domain=yd, anchor="x" + sfx, range=[lo - pad, hi + pad], **common)
    ya.update(yopts)
    layout["yaxis" + sfx] = ya
    annotations.append(dict(text=titles[k], x=(xd[0] + xd[1]) / 2, y=yd[1],
                            xref="paper", yref="paper", xanchor="center", yanchor="bottom",
                            yshift=6, showarrow=False,
                            font=dict(family=FONT, size=24, color="black")))
    if k == 4:
        annotations.append(dict(text="1e7", x=xd[0], y=yd[1], xref="paper", yref="paper",
                                xanchor="left", yanchor="bottom", yshift=4, showarrow=False,
                                font=dict(family=FONT, size=24, color="black")))

layout["annotations"] = annotations
fig.update_layout(**layout)
fig.write_html("out.html", config={"displayModeBar": False},
               post_script="document.body.style.margin='0';document.body.style.overflow='hidden';")
